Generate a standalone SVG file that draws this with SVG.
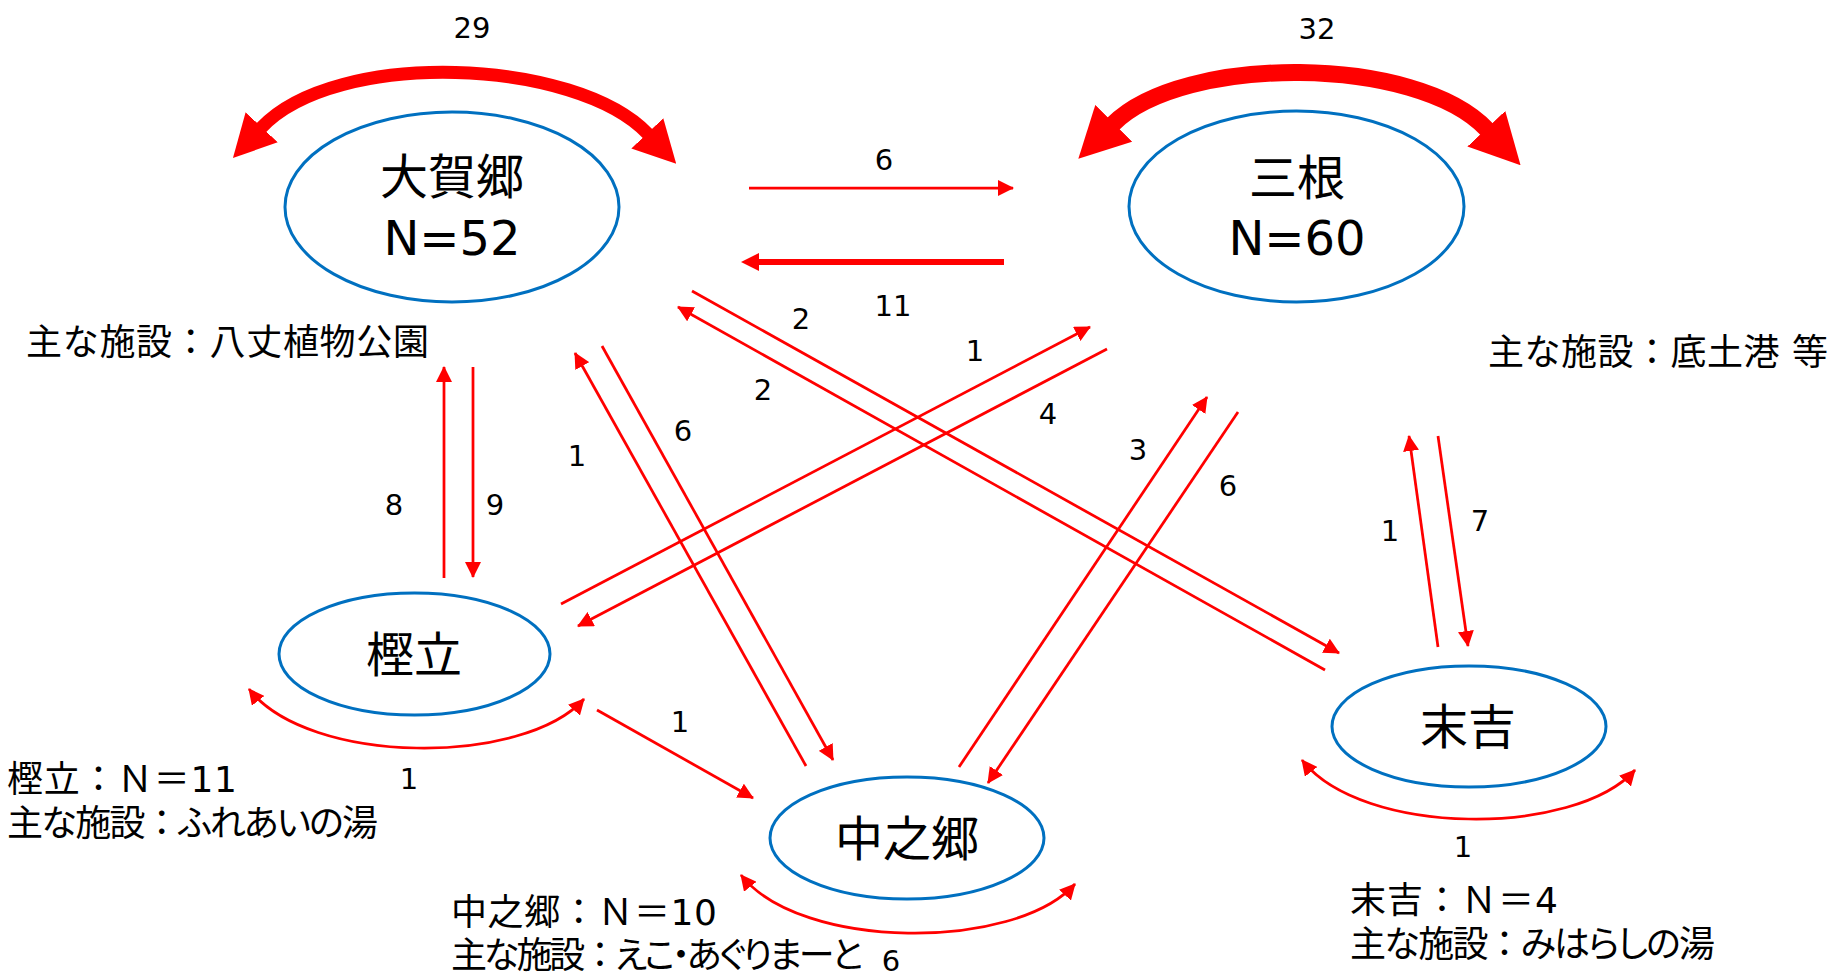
<svg xmlns="http://www.w3.org/2000/svg" width="1833" height="978" viewBox="0 0 1833 978">
<style>
.ell{fill:#FFFFFF;stroke:#0070C0;stroke-width:3}
.node{font-family:"DejaVu Sans","Noto Sans CJK JP",sans-serif;font-size:48px;text-anchor:middle;fill:#000}
.num{font-family:"DejaVu Sans","Noto Sans CJK JP",sans-serif;font-size:29px;text-anchor:middle;fill:#000}
.info{font-family:"DejaVu Sans","Noto Sans CJK JP",sans-serif;font-size:36px;fill:#000}
.kana{font-feature-settings:"palt"}
.c{stroke:#FF0000;stroke-width:2.75;fill:none;marker-end:url(#ah)}
.loop{stroke:#FF0000;stroke-width:2.75;fill:none;marker-start:url(#ah);marker-end:url(#ah)}
</style>
<defs>
<marker id="ah" markerUnits="userSpaceOnUse" viewBox="0 0 16 16" markerWidth="16" markerHeight="16" refX="15" refY="8" orient="auto-start-reverse"><path d="M0,0 L16,8 L0,16 Z" fill="#FF0000"/></marker>
<marker id="ah11" markerUnits="userSpaceOnUse" viewBox="0 0 18 18" markerWidth="18" markerHeight="18" refX="12" refY="9" orient="auto"><path d="M0,0 L18,9 L0,18 Z" fill="#FF0000"/></marker>
<marker id="big29" markerUnits="userSpaceOnUse" viewBox="0 0 42 44" markerWidth="42" markerHeight="44" refX="1" refY="22" orient="auto-start-reverse"><path d="M0,0 L42,22 L0,44 Z" fill="#FF0000"/></marker>
<marker id="big32" markerUnits="userSpaceOnUse" viewBox="0 0 50 52" markerWidth="50" markerHeight="52" refX="1" refY="26" orient="auto-start-reverse"><path d="M0,0 L50,26 L0,52 Z" fill="#FF0000"/></marker>
</defs>
<rect x="0" y="0" width="1833" height="978" fill="#FFFFFF"/>

<g id="connectors">
  <path d="M261,128 C336,48 576,58 648,134" stroke="#FF0000" stroke-width="13" fill="none" marker-start="url(#big29)" marker-end="url(#big29)"/>
  <path d="M1113,124 C1183,54 1417,55 1487,129.5" stroke="#FF0000" stroke-width="17" fill="none" marker-start="url(#big32)" marker-end="url(#big32)"/>
  <line class="c" x1="749" y1="188" x2="1013" y2="188"/>
  <line x1="1004" y1="262" x2="747" y2="262" stroke="#FF0000" stroke-width="6" marker-end="url(#ah11)"/>
  <line class="c" x1="444" y1="578" x2="444" y2="367"/>
  <line class="c" x1="473" y1="367" x2="473" y2="577"/>
  <line class="c" x1="806" y1="766" x2="575" y2="353"/>
  <line class="c" x1="602" y1="346" x2="833" y2="760"/>
  <line class="c" x1="1325" y1="670" x2="678" y2="307"/>
  <line class="c" x1="692" y1="291" x2="1339" y2="653"/>
  <line class="c" x1="561" y1="604" x2="1090" y2="327"/>
  <line class="c" x1="1107" y1="349" x2="578" y2="626"/>
  <line class="c" x1="959" y1="767" x2="1207" y2="397"/>
  <line class="c" x1="1238" y1="412" x2="988" y2="783"/>
  <line class="c" x1="1438" y1="647" x2="1409" y2="436"/>
  <line class="c" x1="1438" y1="436" x2="1468" y2="646"/>
  <line class="c" x1="597" y1="710" x2="753" y2="798"/>
  <path class="loop" d="M249,689 C309,766 524,766 584,699"/>
  <path class="loop" d="M741,875 C801,951 1015,951 1075,884"/>
  <path class="loop" d="M1302,760 C1362,837 1575,837 1635,770"/>
  <text class="num" x="472" y="38">29</text>
  <text class="num" x="1317" y="39">32</text>
  <text class="num" x="884" y="170">6</text>
  <text class="num" x="893" y="316">11</text>
  <text class="num" x="801" y="329">2</text>
  <text class="num" x="763" y="400">2</text>
  <text class="num" x="975" y="361">1</text>
  <text class="num" x="1048" y="424">4</text>
  <text class="num" x="394" y="515">8</text>
  <text class="num" x="495" y="515">9</text>
  <text class="num" x="577" y="466">1</text>
  <text class="num" x="683" y="441">6</text>
  <text class="num" x="1138" y="460">3</text>
  <text class="num" x="1228" y="496">6</text>
  <text class="num" x="1390" y="541">1</text>
  <text class="num" x="1480" y="531">7</text>
  <text class="num" x="680" y="732">1</text>
  <text class="num" x="409" y="789">1</text>
  <text class="num" x="1463" y="857">1</text>
  <text class="num" x="891" y="971">6</text>
</g>

<g id="node-ogago">
  <ellipse class="ell" cx="452" cy="207" rx="167" ry="95"/>
  <text class="node" x="452" y="194">大賀郷</text>
  <text class="node" x="452" y="255">N=52</text>
  <text class="info" x="26" y="355" textLength="403" lengthAdjust="spacing">主な施設：八丈植物公園</text>
</g>

<g id="node-mitsune">
  <ellipse class="ell" cx="1296.5" cy="206.5" rx="167.5" ry="95.5"/>
  <text class="node" x="1297" y="195">三根</text>
  <text class="node" x="1297" y="255">N=60</text>
  <text class="info" x="1488" y="365" textLength="340" lengthAdjust="spacing">主な施設：底土港 等</text>
</g>

<g id="node-kashitate">
  <ellipse class="ell" cx="414.5" cy="654" rx="135.5" ry="61"/>
  <text class="node" x="414" y="672">樫立</text>
  <text class="info" x="7" y="792" textLength="230" lengthAdjust="spacing">樫立：Ｎ＝11</text>
  <text class="info" x="7" y="836" textLength="371" lengthAdjust="spacing">主な施設：<tspan class="kana">ふれあいの</tspan>湯</text>
</g>

<g id="node-nakanogo">
  <ellipse class="ell" cx="907" cy="838" rx="137" ry="61"/>
  <text class="node" x="907" y="856">中之郷</text>
  <text class="info" x="451" y="925" textLength="266" lengthAdjust="spacing">中之郷：Ｎ＝10</text>
  <text class="info" x="451" y="968" textLength="412" lengthAdjust="spacing">主な施設：<tspan class="kana">えこ・あぐりまーと</tspan></text>
</g>

<g id="node-sueyoshi">
  <ellipse class="ell" cx="1469" cy="726.5" rx="137" ry="60.5"/>
  <text class="node" x="1468" y="744">末吉</text>
  <text class="info" x="1350" y="913" textLength="208" lengthAdjust="spacing">末吉：Ｎ＝4</text>
  <text class="info" x="1350" y="957" textLength="365" lengthAdjust="spacing">主な施設：<tspan class="kana">みはらしの</tspan>湯</text>
</g>
</svg>
